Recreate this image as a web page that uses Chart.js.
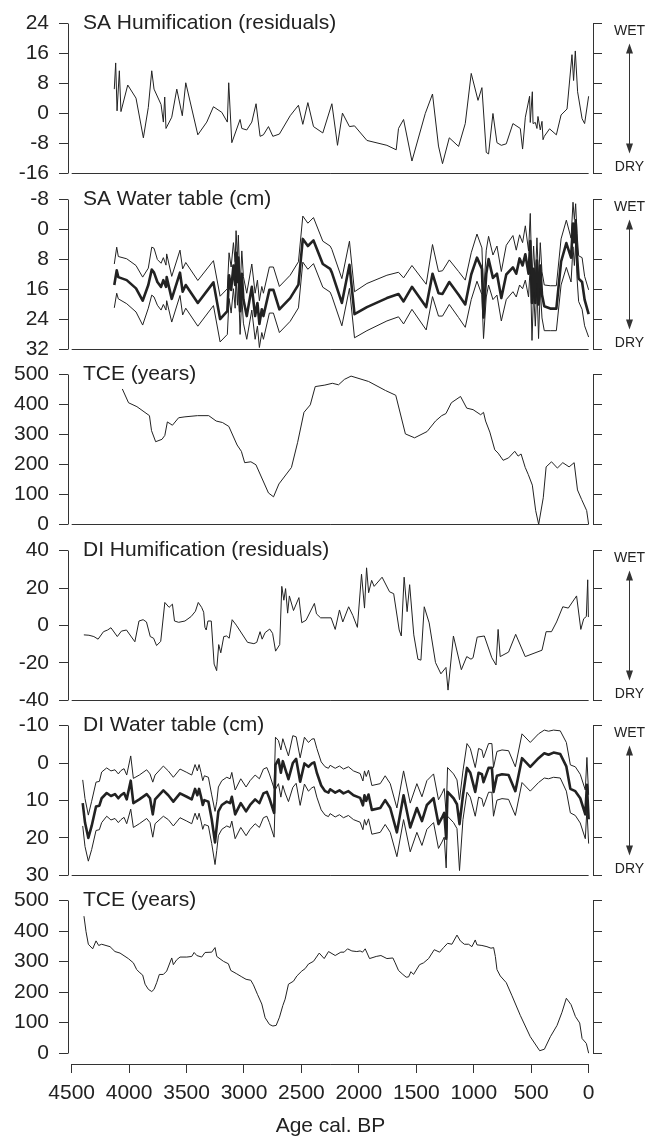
<!DOCTYPE html>
<html>
<head>
<meta charset="utf-8">
<script src="https://cdn.jsdelivr.net/npm/chart.js@4/dist/chart.umd.min.js"></script>
<style>
  body { margin: 0; background: #fff; }
  #wrap { position: relative; width: 654px; height: 1137px; overflow: hidden; }
  .panel { position: absolute; left: 0; width: 654px; }
</style>
</head>
<body>
<div id="wrap"></div>
<script>
// tick values
const ageTicks = [0, 500, 1000, 1500, 2000, 2500, 3000, 3500, 4000, 4500];
const saHumTicks = [-16, -8, 0, 8, 16, 24];
const saWtTicks = [-8, 0, 8, 16, 24, 32];
const tceTicks = [0, 100, 200, 300, 400, 500];
const diHumTicks = [-40, -20, 0, 20, 40];
const diWtTicks = [-10, 0, 10, 20, 30];

// SA humification residuals
const saHumAge = [4129, 4117, 4105, 4085, 4071, 4012, 3940, 3876, 3833, 3803, 3783, 3722, 3702, 3690, 3679, 3629, 3585, 3537, 3507, 3402,
  3324, 3266, 3193, 3145, 3133, 3106, 3034, 3019, 2976, 2932, 2895, 2860, 2831, 2787, 2749, 2692, 2598, 2526, 2488, 2444,
  2395, 2314, 2235, 2186, 2143, 2082, 2038, 1930, 1756, 1675, 1655, 1611, 1538, 1422, 1359, 1307, 1272, 1213, 1132, 1074,
  1022, 963, 929, 891, 871, 833, 798, 760, 717, 659, 595, 575, 551, 514, 508, 490, 484, 464, 450, 441,
  421, 406, 397, 386, 340, 281, 240, 188, 145, 131, 116, 96, 57, 35, 0];
const saHumVal = [6.5, 13.5, 0.7, 11.4, 0.5, 7.6, 4.1, -6.5, 1.6, 11.4, 6.5, 2.4, -2.3, 4.4, -4, -1, 6.5, -0.6, 8.2, -5.7,
  -2.3, 1.8, 0.3, -2.3, 8.2, -7.8, -1.6, -4, -4.4, -2.3, 2.6, -6.1, -5.7, -3.5, -6.1, -5.5, -0.6, 2.2, -2.9, 2.9,
  -3.5, -5.2, 2.6, -8.5, 0.1, -3.5, -3.3, -7.2, -8.5, -9.7, -4, -1.6, -12.7, 0, 5.2, -8.7, -13.4, -6.5, -8.8, -2.7,
  10.7, 3.5, 6.9, -10.4, -10.8, 0, -7.8, -8.5, -8.1, -2.7, -4, -9.5, -1, 4.6, -2.4, 5.8, -2.7, -2.4, -4, -0.8,
  -4.4, -2.1, -7, -6.1, -4.1, -5.7, -0.4, 1.2, 15.7, 8.8, 16.7, 5.8, -1.4, -2.7, 4.6];

// SA water table (cm): mean and error bounds
const saWtAge = [4129, 4108, 4094, 4021, 3940, 3882, 3833, 3803, 3783, 3754, 3722, 3702, 3679, 3673, 3629, 3557, 3534, 3507, 3402, 3266,
  3208, 3145, 3130, 3112, 3092, 3077, 3069, 3057, 3049, 3034, 3019, 3005, 2976, 2932, 2903, 2883, 2866, 2845, 2831, 2779,
  2744, 2692, 2598, 2526, 2488, 2444, 2395, 2314, 2250, 2235, 2148, 2082, 2038, 1930, 1756, 1655, 1611, 1538, 1414, 1359,
  1307, 1272, 1213, 1132, 1074, 1022, 972, 929, 915, 891, 871, 833, 798, 760, 717, 659, 630, 601, 575, 551,
  523, 508, 493, 479, 464, 450, 436, 421, 406, 386, 334, 281, 240, 194, 153, 136, 124, 113, 101, 87,
  57, 35, 0];
const saWtMean = [14.8, 10.9, 12.7, 13.5, 15.7, 19, 14.8, 10.7, 11.5, 14, 15.3, 13.5, 15.3, 12.7, 18.5, 11.5, 16.6, 14.8, 19.6, 14.1,
  23.9, 21.8, 12.2, 16.1, 9.6, 14.8, 6.2, 14, 7.5, 21.8, 11.8, 18.7, 23.1, 15.3, 23.1, 19.6, 25.2, 21.3, 23.1, 16.1,
  16.1, 21.3, 18.3, 14.7, 2.5, 4.4, 2.9, 9.2, 10.5, 11.5, 19.6, 9.4, 22.6, 20.7, 18.3, 17.2, 19.2, 15.3, 20.7, 11.8,
  17, 17.2, 14, 17.4, 20, 12, 7.5, 10.5, 23.5, 11.8, 7.9, 12.9, 11.8, 18.3, 12, 10.1, 11.8, 7.7, 9.6, 6.6,
  11.8, 3.1, 19.6, 10.5, 19.6, 8.3, 20, 9.6, 17.4, 20.5, 21.1, 21.1, 8.6, 3.6, 7.5, -1.6, 3.4, -2.5, 7, 13.1,
  14, 18.7, 22.6];
const saWtWet = [9.2, 4.7, 7.2, 7.8, 9.6, 12.7, 10.3, 4.7, 5, 8, 9, 7.5, 9.5, 6.5, 12.5, 5.5, 10.5, 8.8, 13.6, 8.3,
  17.8, 15.8, 6.2, 10, 3.5, 8.6, 0.3, 8, 1.5, 15.7, 5.7, 12.6, 17, 9.2, 17, 13.5, 19, 15.2, 17, 10,
  10, 15.2, 12.2, 8.6, -3.6, -1.7, -3.2, 3.1, 4.4, 5.3, 13.1, 3.1, 16.6, 14.4, 12.2, 11.4, 12.9, 9.6, 14.6, 4,
  11.2, 11, 8.1, 11.2, 13.5, 6.2, 1.2, 4.9, 17.5, 5.5, 1.8, 6.8, 4.4, 11.2, 4.2, 1.6, 5.5, 1.4, 3.5, -1,
  5.7, -4.3, 13.5, 4.4, 13.5, 2.2, 13.9, 3.5, 11.3, 14.8, 15, 15, 2.5, -2.5, 2.3, -7.3, -2.7, -6.9, 1, 7,
  7.5, 12.5, 16.1];
const saWtDry = [20.9, 17, 18.5, 19.8, 22, 25.5, 21, 17.5, 18, 20.2, 21.5, 20, 21.5, 19, 24.7, 17.6, 22.8, 21, 25.8, 20.3,
  30, 28, 18.4, 22.3, 15.8, 21, 12.5, 20.2, 13.7, 28, 18, 25, 29.3, 21.5, 29.3, 25.8, 31.5, 27.5, 29.3, 22.3,
  22.3, 27.5, 24.5, 20.9, 8.7, 10.6, 9.1, 15.4, 16.7, 17.8, 25.7, 15.7, 28.9, 27, 24.4, 23.3, 25.2, 21.3, 26.8, 17.9,
  23.1, 23.1, 20, 23.5, 26.1, 18.7, 13.8, 17.4, 29.1, 18, 14.8, 18.7, 17.5, 24.4, 18.7, 16.6, 18, 14.8, 15.8, 13.5,
  18, 9.5, 29.6, 16.7, 25.8, 14.5, 29.1, 15.8, 23.6, 27, 27, 27, 14.8, 10.1, 14, 4.6, 9.6, 3.6, 13, 19.2,
  21.3, 25.7, 28.7];

// SA tephra-constrained error (years)
const saTceAge = [4059, 4005, 3932, 3823, 3805, 3769, 3714, 3689, 3667, 3623, 3569, 3514, 3405, 3307, 3242, 3187, 3132, 3060, 3023, 2994,
  2940, 2896, 2787, 2743, 2696, 2587, 2533, 2478, 2423, 2380, 2296, 2231, 2177, 2126, 2068, 1915, 1769, 1679, 1595, 1515,
  1406, 1333, 1279, 1242, 1195, 1115, 1061, 1006, 940, 915, 897, 860, 817, 788, 744, 697, 643, 614, 588, 552,
  526, 490, 461, 435, 395, 370, 323, 272, 225, 170, 126, 97, 61, 17, 0];
const saTceVal = [452, 406, 393, 363, 313, 276, 284, 297, 342, 331, 356, 359, 363, 363, 345, 340, 327, 265, 244, 206,
  209, 199, 105, 92, 135, 190, 274, 374, 399, 460, 465, 471, 466, 484, 495, 477, 447, 431, 302, 289,
  310, 345, 363, 370, 406, 427, 388, 383, 366, 374, 345, 308, 249, 238, 214, 222, 244, 228, 235, 190,
  167, 131, 46, 0, 89, 192, 209, 188, 206, 192, 206, 115, 83, 46, 0];

// DI humification residuals
const diHumAge = [4394, 4350, 4307, 4270, 4223, 4187, 4158, 4103, 4067, 4023, 3950, 3914, 3878, 3849, 3816, 3787, 3761, 3725, 3689, 3652,
  3623, 3605, 3569, 3514, 3460, 3423, 3398, 3369, 3351, 3340, 3329, 3314, 3285, 3260, 3238, 3220, 3202, 3176, 3151, 3129,
  3103, 3067, 2969, 2914, 2889, 2860, 2842, 2816, 2776, 2751, 2725, 2689, 2671, 2653, 2638, 2620, 2605, 2569, 2522, 2497,
  2460, 2387, 2369, 2333, 2242, 2206, 2169, 2140, 2089, 2053, 2013, 1977, 1951, 1933, 1915, 1889, 1867, 1798, 1733, 1697,
  1649, 1631, 1606, 1580, 1558, 1522, 1486, 1460, 1431, 1388, 1333, 1286, 1242, 1224, 1177, 1108, 1061, 1024, 1006, 970,
  908, 843, 806, 788, 770, 697, 635, 552, 406, 370, 323, 279, 225, 177, 105, 68, 43, 20, 8, 2];
const diHumVal = [-5, -5.2, -5.9, -7.3, -3.3, -2.4, -1.2, -5.9, -3, -2.4, -8.7, 2.4, 3.1, 1.9, -5.9, -6.8, -10.7, -8.5, 12.3, 9.7,
  11.4, 2.4, 1.7, 2.4, 4.8, 7.6, 12.3, 9.7, 7.1, -1, -2.4, 2.4, 2.4, -20.6, -24.1, -10.2, -14.6, -5.9, -5.6, -6.8,
  3.1, 0.2, -9, -9.7, -9, -3.3, -7.3, -3.8, -1.9, -4.2, -13.7, -10.2, 20.9, 13.5, 19.7, 6.6, 15.8, 8, 14.9, 1.5,
  2.8, 11.8, 6.2, 4.1, 4.1, -2.1, 8.3, 1.9, 10, 5.4, -1, 27.4, 9.3, 30.8, 17.5, 24.1, 20.9, 25.8, 18, 17,
  -2.4, -5.6, 25.8, 7.4, 21.8, -5, -18, -18.5, 10, 1.4, -19.8, -25.8, -22.4, -34.5, -5.6, -23.6, -16.6, -18, -17.2, -6.2,
  -5.6, -17.2, -21.1, -2.1, -16.6, -14.2, -4.7, -16.6, -13.2, -3.3, -3.3, 1.9, 10, 9.3, 15.8, -2.1, 3.6, 4.8, 24.4, 4.5];

// DI water table (cm): mean and error bounds
const diWtAge = [4404, 4384, 4355, 4326, 4288, 4259, 4239, 4195, 4158, 4123, 4094, 4071, 4044, 4021, 3986, 3963, 3911, 3847, 3818, 3794,
  3774, 3702, 3659, 3615, 3557, 3498, 3455, 3426, 3406, 3391, 3374, 3359, 3345, 3310, 3281, 3252, 3237, 3223, 3193, 3150,
  3121, 3106, 3077, 3028, 2982, 2947, 2903, 2866, 2831, 2801, 2779, 2738, 2726, 2700, 2679, 2662, 2642, 2613, 2575, 2546,
  2511, 2474, 2439, 2409, 2389, 2366, 2328, 2294, 2265, 2250, 2206, 2169, 2134, 2091, 2047, 1989, 1965, 1951, 1936, 1916,
  1887, 1814, 1771, 1727, 1669, 1611, 1553, 1495, 1451, 1408, 1350, 1307, 1277, 1257, 1240, 1228, 1176, 1146, 1124, 1094,
  1059, 1030, 987, 958, 929, 915, 871, 842, 828, 798, 754, 697, 638, 580, 508, 436, 386, 349, 305, 247,
  194, 159, 116, 73, 29, 15, 0];
const diWtMean = [10.7, 15.9, 20, 16.8, 11.6, 11.4, 9.4, 8, 8.8, 8.3, 9.4, 8.6, 8, 9.7, 4.7, 10.7, 9.7, 8.3, 9.4, 13.7,
  9.7, 7.3, 8.6, 10.3, 8.1, 9, 9.7, 6.9, 8.6, 6.9, 9, 11.2, 9.9, 10.3, 15, 21.2, 16.8, 12.9, 11.2, 10.3,
  10.7, 9, 13.7, 10.7, 12.9, 11.2, 9.7, 10.7, 8.1, 7.7, 9.4, 13.3, 0.5, -1, 2.6, -0.5, 1.5, 4.3, 0, -1.1,
  5, 0.1, 1, 0.1, -0.2, 2.6, 6, 7.5, 7.9, 7, 7.9, 7.3, 8.1, 7.5, 8.6, 9.3, 11.3, 8.6, 10.1, 8.4,
  12.5, 12, 9.9, 12, 18.5, 8.6, 17.2, 12, 15.5, 11.2, 9.4, 16.3, 14.6, 13.3, 20.2, 7.7, 9.4, 11, 16.3, 8.6,
  1.3, 2.6, 7.7, 2.6, 3, 5.1, 1.3, 1.3, 7.7, 3.4, 3, 3.2, 7.5, -1.3, 1, -1.3, -2.6, -2.2, -2.8, -2.4,
  0.9, 6.9, 7.5, 9.4, 13.7, 5.8, 15];
const diWtWet = [4.5, 9.5, 13.9, 10.2, 5.1, 4.9, 2.4, 1.3, 2.1, 1.8, 2.9, 2, 1.5, 3.2, -1.9, 4.1, 3.2, 1.8, 2.9, 5.1,
  3.2, 0.8, 2.1, 3.8, 1.6, 2.5, 3.2, 0.4, 2.1, 0.4, 2.5, 4.7, 3.4, 3.8, 8.5, 12.9, 10.3, 6.4, 4.7, 3.8,
  4.2, 2.5, 7.2, 4.2, 6.4, 4.7, 3.2, 4.2, 1.6, 1.2, 2.9, 6.8, -6.9, -6, -3.5, -6.5, -4.6, -1.9, -7.3, -7,
  -1.4, -6.9, -5.5, -6.4, -6.5, -3.9, -0.3, 1, 1.4, 0.6, 1.4, 0.8, 1.6, 1, 2.1, 2.8, 4.8, 2.1, 3.6, 1.9,
  6, 5.5, 3.4, 5.5, 12, 2.1, 10.7, 5.5, 9, 4.7, 2.9, 9.8, 8.1, 6.8, 13.7, 1.2, 2.9, 4.5, 9.8, 2.1,
  -5.2, -3.9, 1.2, -3.9, -3.5, -1.4, -5.2, -5.2, 1.2, -3.1, -3.5, -3.3, 1, -7.8, -5.5, -7.8, -8.8, -8.5, -8.8, -8.6,
  -5.5, 0.5, 1, 3, 7.2, -1.5, 8.5];
const diWtDry = [16.8, 22.3, 26.2, 23.1, 18, 17.8, 15.9, 14.2, 15.2, 14.8, 15.9, 15.1, 14.5, 16.2, 12.3, 17.2, 16.2, 14.8, 15.9, 19.8,
  16.2, 14.2, 15.1, 16.8, 14.6, 15.5, 16.2, 13.4, 15.1, 13.4, 15.5, 17.7, 16.4, 16.8, 21.5, 27.1, 23.3, 19.4, 17.7, 16.8,
  17.2, 15.5, 20.2, 17.2, 19.4, 17.7, 16.2, 17.2, 14.6, 14.2, 15.9, 19.8, 7, 5.5, 9.1, 6, 8, 10.3, 6.5, 5.4,
  11.3, 5.6, 7.5, 6.6, 6.3, 9.1, 12.5, 13.9, 14.3, 13.5, 14.4, 13.8, 14.6, 14, 15.1, 15.8, 17.8, 15.1, 16.6, 14.9,
  19, 18.5, 16.4, 18.5, 25, 15.1, 23.7, 18.5, 22, 17.7, 15.9, 22.8, 21.1, 19.8, 28, 14.2, 15.9, 17.5, 28.7, 15.1,
  7.8, 9.1, 14.2, 9.1, 9.5, 11.6, 7.8, 7.8, 14.2, 9.9, 9.5, 9.7, 14, 5.2, 7.5, 5.2, 4, 4.2, 3.8, 4,
  7.5, 13.3, 14, 16, 20.2, 12.3, 21.5];

// DI tephra-constrained error (years)
const diTceAge = [4393, 4375, 4355, 4317, 4288, 4265, 4239, 4166, 4123, 4079, 4007, 3963, 3934, 3905, 3882, 3861, 3832, 3803, 3783, 3760,
  3737, 3702, 3673, 3629, 3615, 3586, 3557, 3498, 3455, 3434, 3411, 3368, 3339, 3281, 3252, 3237, 3179, 3136, 3115, 3063,
  3019, 2982, 2941, 2918, 2883, 2845, 2816, 2778, 2749, 2720, 2691, 2662, 2642, 2613, 2569, 2540, 2497, 2468, 2439, 2395,
  2345, 2302, 2264, 2206, 2157, 2128, 2099, 2061, 2018, 1989, 1968, 1945, 1907, 1849, 1808, 1756, 1704, 1684, 1655, 1617,
  1588, 1567, 1547, 1524, 1472, 1437, 1393, 1344, 1297, 1263, 1228, 1190, 1146, 1117, 1082, 1045, 1016, 987, 972, 929,
  885, 850, 827, 812, 798, 769, 717, 667, 595, 508, 426, 385, 333, 275, 232, 194, 153, 115, 78, 57, 20, 0];
const diTceVal = [449, 398, 357, 342, 368, 353, 357, 349, 333, 328, 310, 296, 274, 263, 256, 226, 209, 202, 209, 231,
  258, 258, 269, 312, 290, 306, 315, 315, 317, 330, 320, 315, 330, 331, 346, 317, 301, 293, 271, 260,
  250, 242, 239, 224, 193, 161, 116, 94, 89, 91, 118, 156, 177, 226, 236, 253, 269, 277, 292, 301,
  328, 310, 333, 320, 331, 331, 342, 335, 333, 335, 331, 342, 310, 317, 320, 310, 312, 296, 271, 258,
  249, 250, 267, 258, 290, 296, 310, 339, 331, 346, 360, 357, 387, 368, 357, 357, 349, 371, 355, 353,
  349, 344, 346, 317, 274, 253, 231, 188, 124, 54, 8, 13, 54, 91, 134, 180, 159, 120, 99, 48, 32, 0];

const panels = [
  { title: 'SA Humification (residuals)', ticks: saHumTicks, reverse: false, arrows: true,
    lines: [[saHumAge, saHumVal, 1]] },
  { title: 'SA Water table (cm)', ticks: saWtTicks, reverse: true, arrows: true,
    lines: [[saWtAge, saWtWet, 1], [saWtAge, saWtDry, 1], [saWtAge, saWtMean, 2.6]] },
  { title: 'TCE (years)', ticks: tceTicks, reverse: false, arrows: false,
    lines: [[saTceAge, saTceVal, 1]] },
  { title: 'DI Humification (residuals)', ticks: diHumTicks, reverse: false, arrows: true,
    lines: [[diHumAge, diHumVal, 1]] },
  { title: 'DI Water table (cm)', ticks: diWtTicks, reverse: true, arrows: true,
    lines: [[diWtAge, diWtWet, 1], [diWtAge, diWtDry, 1], [diWtAge, diWtMean, 2.6]] },
  { title: 'TCE (years)', ticks: tceTicks, reverse: false, arrows: false, last: true,
    lines: [[diTceAge, diTceVal, 1]] }
];

// layout
const panelTop = [21, 197, 372, 548, 723, 898];
const panelH = 155;
const pad = 20;
const axisGap = 11;     // bottom x axis sits below the last panel
const fontFamily = '"Liberation Sans", Arial, Helvetica, sans-serif';
const ink = '#222';
const axisInk = '#333';

Chart.defaults.font.family = fontFamily;
Chart.defaults.color = ink;

function crisp(v) {
  return Math.round(v - 0.5) + 0.5;
}

function makeDecor(p) {
  return {
    id: 'decor',
    afterDraw(chart) {
      const { ctx, chartArea } = chart;
      const { x, y, y2 } = chart.scales;
      const a = y.getPixelForValue(p.ticks[0]);
      const b = y.getPixelForValue(p.ticks[p.ticks.length - 1]);
      const top = crisp(Math.min(a, b));
      const bot = crisp(Math.max(a, b));

      ctx.save();
      ctx.strokeStyle = axisInk;
      ctx.lineWidth = 1;
      ctx.beginPath();
      ctx.moveTo(crisp(y.right), top);
      ctx.lineTo(crisp(y.right), bot);
      ctx.moveTo(crisp(y2.left), top);
      ctx.lineTo(crisp(y2.left), bot);
      const hy = p.last ? crisp(chartArea.bottom) : bot;
      ctx.moveTo(x.getPixelForValue(4500), hy);
      ctx.lineTo(x.getPixelForValue(0), hy);
      ctx.stroke();

      ctx.fillStyle = ink;
      ctx.font = '21px ' + fontFamily;
      ctx.textAlign = 'left';
      ctx.textBaseline = 'middle';
      ctx.fillText(p.title, chartArea.left + 15, top);

      if (p.arrows) {
        const cx = 629.5;
        ctx.font = '14px ' + fontFamily;
        ctx.textAlign = 'center';
        ctx.fillText('WET', cx, top + 8);
        ctx.fillText('DRY', cx, bot - 6);
        const t = top + 20, e = bot - 20;
        ctx.beginPath();
        ctx.moveTo(cx, t + 6);
        ctx.lineTo(cx, e - 6);
        ctx.stroke();
        ctx.fillStyle = axisInk;
        ctx.beginPath();
        ctx.moveTo(cx, t);
        ctx.lineTo(cx - 3.5, t + 10);
        ctx.lineTo(cx + 3.5, t + 10);
        ctx.closePath();
        ctx.moveTo(cx, e);
        ctx.lineTo(cx - 3.5, e - 10);
        ctx.lineTo(cx + 3.5, e - 10);
        ctx.closePath();
        ctx.fill();
      }
      ctx.restore();
    }
  };
}

const wrap = document.getElementById('wrap');

panels.forEach((p, i) => {
  const divTop = panelTop[i] - pad;
  const div = document.createElement('div');
  div.className = 'panel';
  div.style.top = divTop + 'px';
  div.style.height = (p.last ? 1137 - divTop : panelH + 2 * pad) + 'px';
  const canvas = document.createElement('canvas');
  div.appendChild(canvas);
  wrap.appendChild(div);

  const lo = p.ticks[0];
  const hi = p.ticks[p.ticks.length - 1];
  const yMin = p.last ? lo - axisGap * (hi - lo) / panelH : lo;

  const yAxis = (position, labels) => ({
    position: position,
    min: yMin,
    max: hi,
    reverse: p.reverse,
    border: { display: false },
    grid: { drawOnChartArea: false, drawTicks: true, tickLength: 9, color: axisInk, lineWidth: 1 },
    ticks: { display: labels, autoSkip: false, font: { size: 21 }, color: ink, padding: 10, callback: v => String(v) },
    afterBuildTicks: s => { s.ticks = p.ticks.map(v => ({ value: v })); },
    afterFit: s => { s.width = position === 'left' ? 68 : 61; }
  });

  new Chart(canvas, {
    type: 'line',
    data: {
      datasets: p.lines.map(([ages, vals, w]) => ({
        data: ages.map((a, k) => ({ x: a, y: vals[k] })),
        borderColor: ink,
        borderWidth: w,
        borderJoinStyle: 'round',
        pointRadius: 0,
        fill: false,
        tension: 0
      }))
    },
    options: {
      responsive: true,
      maintainAspectRatio: false,
      animation: false,
      events: [],
      layout: { autoPadding: false, padding: { top: pad, bottom: p.last ? 0 : pad, left: 0, right: 0 } },
      plugins: { legend: { display: false }, tooltip: { enabled: false } },
      scales: {
        x: {
          type: 'linear',
          min: -38,
          max: 4532,
          reverse: true,
          display: !!p.last,
          border: { display: false },
          grid: { drawOnChartArea: false, drawTicks: true, tickLength: 9, color: axisInk, lineWidth: 1 },
          ticks: { font: { size: 21 }, color: ink, padding: 8, maxRotation: 0, autoSkip: false, callback: v => String(v) },
          afterBuildTicks: s => { s.ticks = ageTicks.map(v => ({ value: v })); },
          afterFit: s => { if (p.last) s.height = 73; },
          title: { display: true, text: 'Age cal. BP', color: ink, font: { size: 21, lineHeight: 1 }, padding: 0 }
        },
        y: yAxis('left', true),
        y2: yAxis('right', false)
      }
    },
    plugins: [makeDecor(p)]
  });
});
</script>
</body>
</html>
